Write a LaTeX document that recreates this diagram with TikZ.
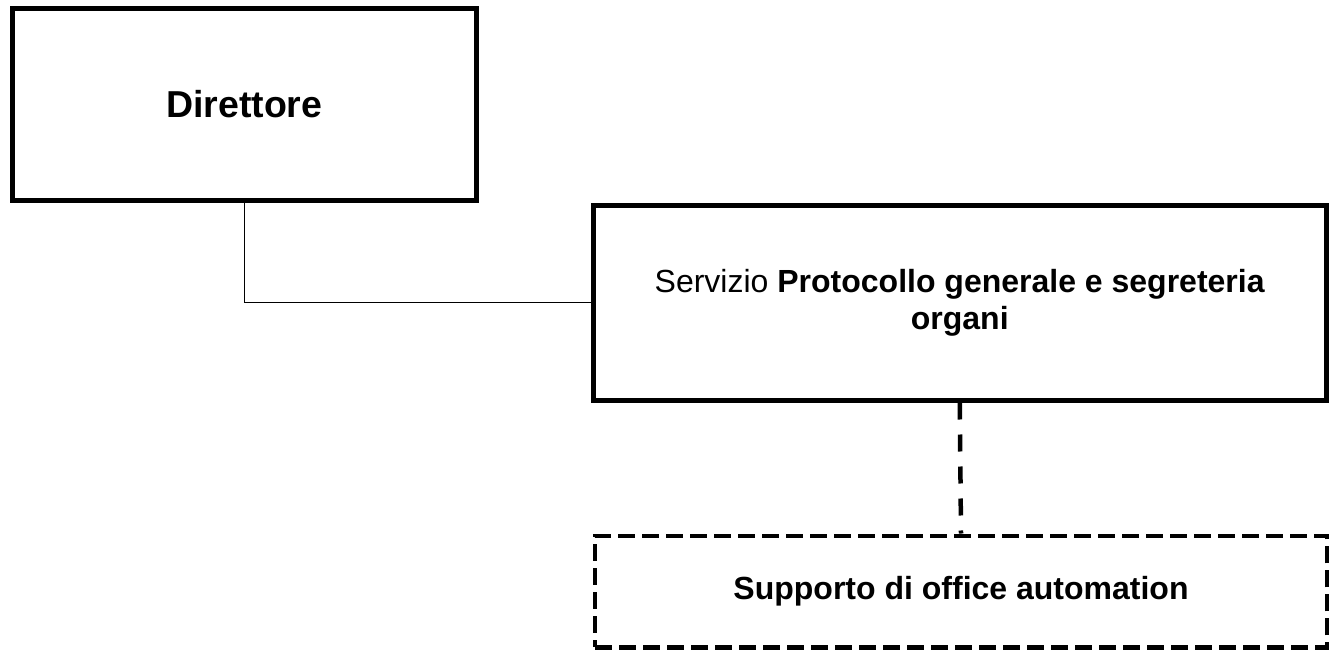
\documentclass[tikz,border=0pt]{standalone}
\usepackage{fontspec}
\setmainfont{Liberation Sans}
\begin{document}
\begin{tikzpicture}[x=1pt,y=-1pt,
  solidbox/.style={draw=black,line width=5pt,rectangle,inner sep=0pt,align=center},
  dashbox/.style={draw=black,line width=4.5pt,rectangle,inner sep=0pt,align=center,dash pattern=on 17pt off 7pt},
  thinline/.style={draw=black,line width=1.3pt},
  dashline/.style={draw=black,line width=4.5pt,dash pattern=on 17pt off 15pt}]
\useasboundingbox (0,0) rectangle (1330,650);
\node[solidbox,minimum width=464.5pt,minimum height=191.5pt,font=\fontsize{37.5}{43}\selectfont\bfseries] (dir) at (244.25,104.25)
  {Direttore};
\node[solidbox,minimum width=732.5pt,minimum height=195pt,font=\fontsize{32}{37}\selectfont] (srv) at (959.75,302.5)
  {Servizio \textbf{Protocollo generale e segreteria}\\\textbf{organi}};
\node[dashbox,minimum width=732pt,minimum height=111.5pt,font=\fontsize{32}{37}\selectfont\bfseries] (sup) at (961,591.5)
  {Supporto di office automation};
\draw[thinline] (dir.south) |- (srv.west);
\draw[dashline] (srv.south) -- (sup.north);
\end{tikzpicture}
\end{document}
